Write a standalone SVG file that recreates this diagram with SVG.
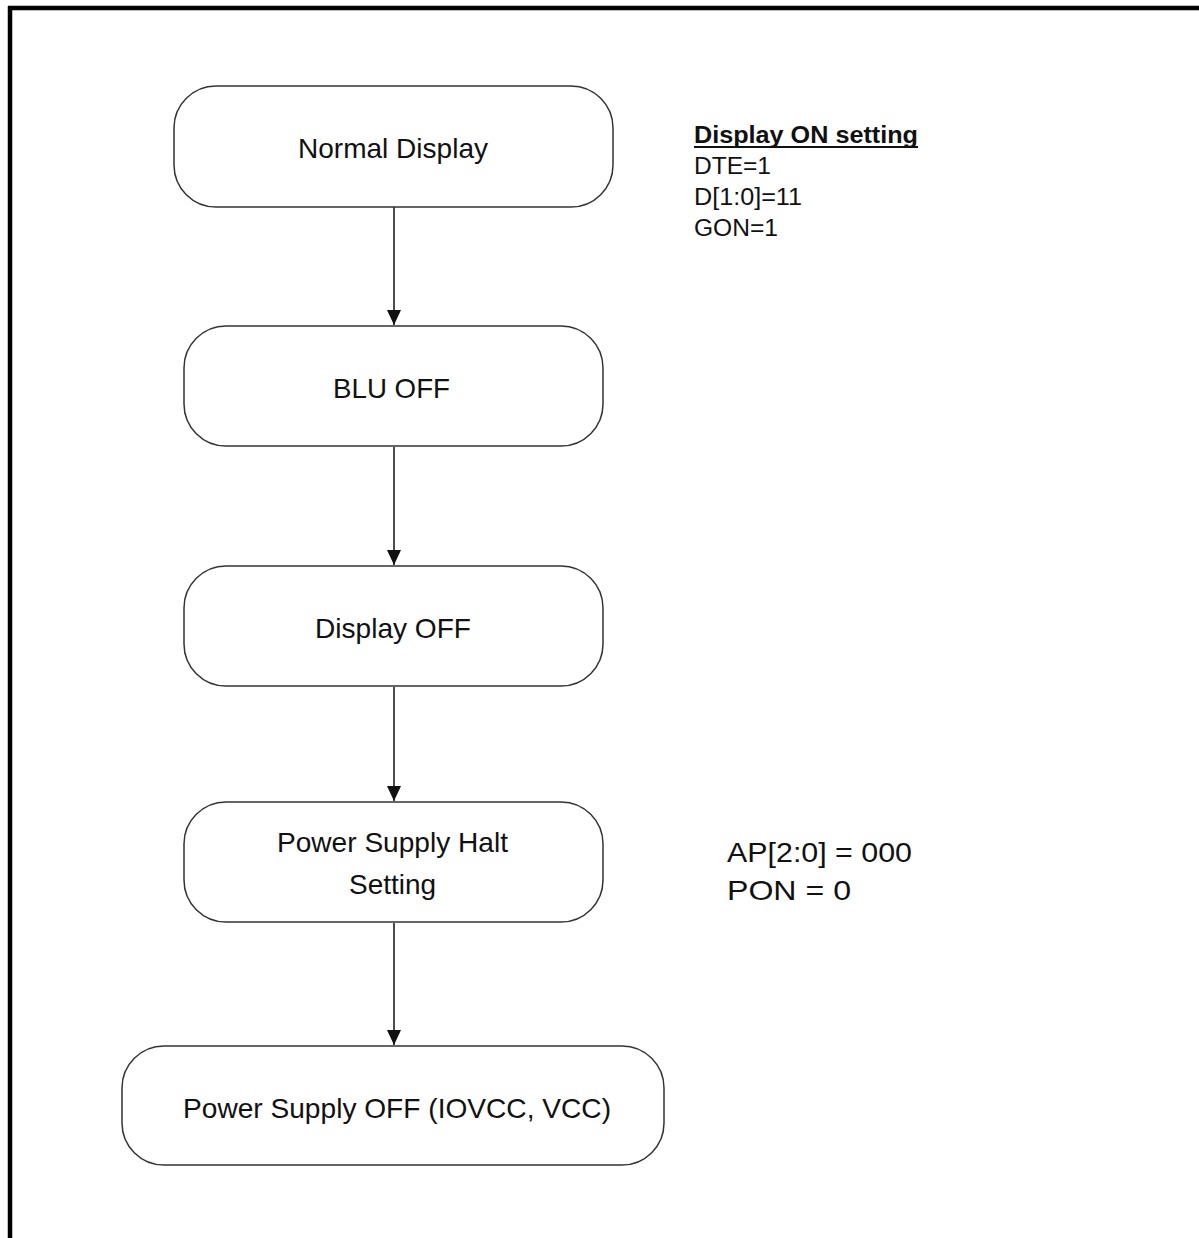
<svg xmlns="http://www.w3.org/2000/svg" width="1199" height="1238" viewBox="0 0 1199 1238">
<style>
.box{fill:#fff;stroke:#333;stroke-width:1.5}
.t{font-family:"Liberation Sans",Arial,sans-serif;font-size:28px;fill:#111}
.n{font-family:"Liberation Sans",Arial,sans-serif;font-size:23px;fill:#111}
.b{font-family:"Liberation Sans",Arial,sans-serif;font-size:23px;font-weight:bold;fill:#111}
.c{stroke:#111;stroke-width:1.5;fill:none}
</style>
<defs>
<marker id="ah" viewBox="0 0 15 14" refX="15" refY="7" markerWidth="15" markerHeight="14" markerUnits="userSpaceOnUse" orient="auto">
<path d="M0,0 L15,7 L0,14 Z" fill="#111"/>
</marker>
</defs>
<rect width="1199" height="1238" fill="#fff"/>
<g id="frame">
<line x1="8" y1="8" x2="1199" y2="8" stroke="#000" stroke-width="4.5"/>
<line x1="10" y1="6" x2="10" y2="1238" stroke="#000" stroke-width="4.5"/>
</g>
<g id="connectors">
<line class="c" x1="394" y1="207" x2="394" y2="325" marker-end="url(#ah)"/>
<line class="c" x1="394" y1="447" x2="394" y2="565" marker-end="url(#ah)"/>
<line class="c" x1="394" y1="687" x2="394" y2="801" marker-end="url(#ah)"/>
<line class="c" x1="394" y1="923" x2="394" y2="1045" marker-end="url(#ah)"/>
</g>
<g id="n1">
<rect class="box" x="174" y="86" width="439" height="121" rx="42" ry="42"/>
<text class="t" x="298" y="158" textLength="190" lengthAdjust="spacingAndGlyphs">Normal Display</text>
</g>
<g id="n2">
<rect class="box" x="184" y="326" width="419" height="120" rx="42" ry="42"/>
<text class="t" x="333" y="398" textLength="117" lengthAdjust="spacingAndGlyphs">BLU OFF</text>
</g>
<g id="n3">
<rect class="box" x="184" y="566" width="419" height="120" rx="42" ry="42"/>
<text class="t" x="315" y="638" textLength="156" lengthAdjust="spacingAndGlyphs">Display OFF</text>
</g>
<g id="n4">
<rect class="box" x="184" y="802" width="419" height="120" rx="42" ry="42"/>
<text class="t" x="277" y="852" textLength="231" lengthAdjust="spacingAndGlyphs">Power Supply Halt</text>
<text class="t" x="349" y="894" textLength="87" lengthAdjust="spacingAndGlyphs">Setting</text>
</g>
<g id="n5">
<rect class="box" x="122" y="1046" width="542" height="119" rx="42" ry="42"/>
<text class="t" x="183" y="1118" textLength="428" lengthAdjust="spacingAndGlyphs">Power Supply OFF (IOVCC, VCC)</text>
</g>
<g id="note1">
<text class="b" x="694" y="143" textLength="224" lengthAdjust="spacingAndGlyphs">Display ON setting</text>
<line x1="694" y1="147" x2="918" y2="147" stroke="#111" stroke-width="2"/>
<text class="n" x="694" y="174" textLength="77" lengthAdjust="spacingAndGlyphs">DTE=1</text>
<text class="n" x="694" y="205" textLength="108" lengthAdjust="spacingAndGlyphs">D[1:0]=11</text>
<text class="n" x="694" y="236" textLength="84" lengthAdjust="spacingAndGlyphs">GON=1</text>
</g>
<g id="note2">
<text class="t" x="727" y="862" textLength="185" lengthAdjust="spacingAndGlyphs">AP[2:0] = 000</text>
<text class="t" x="727" y="900" textLength="124" lengthAdjust="spacingAndGlyphs">PON = 0</text>
</g>
</svg>
